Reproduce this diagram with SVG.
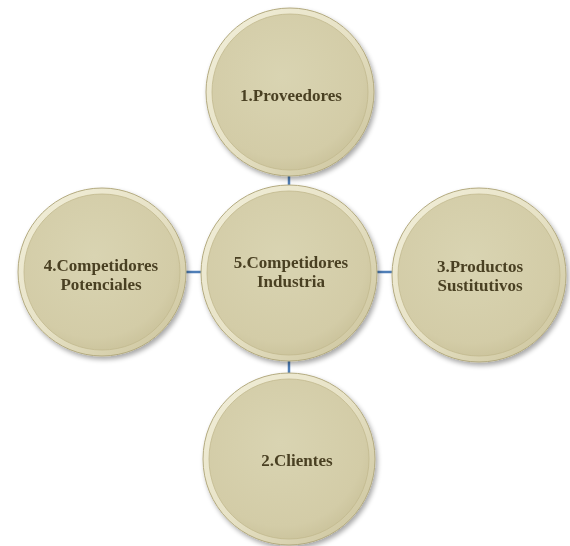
<svg xmlns="http://www.w3.org/2000/svg" width="570" height="546" viewBox="0 0 570 546">
<defs>
<radialGradient id="body" cx="0.45" cy="0.4" r="0.65">
<stop offset="0" stop-color="#d9d4b2"/>
<stop offset="0.8" stop-color="#d3cca7"/>
<stop offset="1" stop-color="#c9c199"/>
</radialGradient>
<linearGradient id="rim" x1="0" y1="0" x2="1" y2="1">
<stop offset="0" stop-color="#f2efda"/>
<stop offset="0.5" stop-color="#e7e2c6"/>
<stop offset="1" stop-color="#c9c198"/>
</linearGradient>
<filter id="sh" x="-20%" y="-20%" width="140%" height="140%">
<feGaussianBlur in="SourceAlpha" stdDeviation="2.5"/>
<feOffset dx="2" dy="3"/>
<feComponentTransfer><feFuncA type="linear" slope="0.35"/></feComponentTransfer>
<feMerge><feMergeNode/><feMergeNode in="SourceGraphic"/></feMerge>
</filter>
</defs>
<style>
.outer{fill:url(#rim);stroke:#b3aa7f;stroke-width:1}
.inner{fill:url(#body);stroke:#c2b98e;stroke-width:0.8}
.lbl{font-family:"Liberation Serif","Times New Roman",serif;font-weight:bold;font-size:17px;fill:#493f22;text-anchor:middle}
.conn{stroke:#4f7fb8;stroke-width:2.5;fill:none}
</style>
<g id="connectors">
<line class="conn" x1="289" y1="172" x2="289" y2="190"/>
<line class="conn" x1="183" y1="272" x2="205" y2="272"/>
<line class="conn" x1="374" y1="272" x2="395" y2="272"/>
<line class="conn" x1="289" y1="356" x2="289" y2="376"/>
</g>
<g id="n1" filter="url(#sh)">
<circle class="outer" cx="290" cy="92" r="84"/>
<circle class="inner" cx="290" cy="92" r="78"/>
<text class="lbl" x="291" y="101">1.Proveedores</text>
</g>
<g id="n5" filter="url(#sh)">
<circle class="outer" cx="289" cy="273" r="88"/>
<circle class="inner" cx="289" cy="273" r="82"/>
<text class="lbl" x="291" y="268">5.Competidores</text>
<text class="lbl" x="291" y="287">Industria</text>
</g>
<g id="n4" filter="url(#sh)">
<circle class="outer" cx="102" cy="272" r="84"/>
<circle class="inner" cx="102" cy="272" r="78"/>
<text class="lbl" x="101" y="271">4.Competidores</text>
<text class="lbl" x="101" y="290">Potenciales</text>
</g>
<g id="n3" filter="url(#sh)">
<circle class="outer" cx="479" cy="275" r="87"/>
<circle class="inner" cx="479" cy="275" r="81"/>
<text class="lbl" x="480" y="272">3.Productos</text>
<text class="lbl" x="480" y="291">Sustitutivos</text>
</g>
<g id="n2" filter="url(#sh)">
<circle class="outer" cx="289" cy="459" r="86"/>
<circle class="inner" cx="289" cy="459" r="80"/>
<text class="lbl" x="297" y="466">2.Clientes</text>
</g>
</svg>
